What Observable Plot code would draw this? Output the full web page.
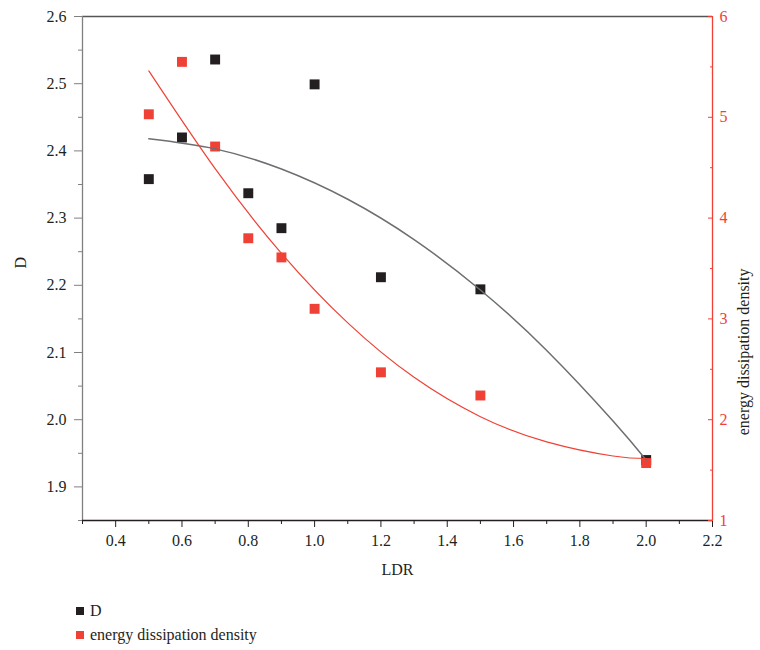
<!DOCTYPE html>
<html><head><meta charset="utf-8">
<script src="https://cdn.jsdelivr.net/npm/d3@7"></script>
<script src="https://cdn.jsdelivr.net/npm/@observablehq/plot@0.6"></script>
<style>
body{margin:0;background:#fff;font-family:"Liberation Serif","Times New Roman","Tinos","DejaVu Serif","Noto Serif",serif;}
#legend{padding-top:14px;margin-left:76px;font-size:16px;color:#231f20;}
.row{display:flex;align-items:center;height:24px;}
.sw{width:8px;height:8px;margin-right:6px;}
</style></head>
<body><div id="chart"></div>
<div id="legend"></div>
<script>
// Data
const ldr = [0.5, 0.6, 0.7, 0.8, 0.9, 1.0, 1.2, 1.5, 2.0];
const dValues = [2.358, 2.420, 2.536, 2.337, 2.285, 2.499, 2.212, 2.194, 1.940];
const energyValues = [5.03, 5.55, 4.71, 3.80, 3.61, 3.10, 2.47, 2.24, 1.57];
// Fitted curves
const fitX = [0.5, 0.7, 0.9, 1.1, 1.3, 1.5, 1.7, 1.9, 2.0];
const dFit = [2.418, 2.403, 2.373, 2.328, 2.268, 2.193, 2.103, 1.998, 1.940];
const energyFit = [5.46, 4.49, 3.65, 2.96, 2.42, 2.03, 1.78, 1.64, 1.615];
// Ticks
const xTicks = [0.4, 0.6, 0.8, 1.0, 1.2, 1.4, 1.6, 1.8, 2.0, 2.2];
const xMinor = [0.3, 0.5, 0.7, 0.9, 1.1, 1.3, 1.5, 1.7, 1.9, 2.1];
const dTicks = [1.9, 2.0, 2.1, 2.2, 2.3, 2.4, 2.5, 2.6];
const dMinor = [1.85, 1.95, 2.05, 2.15, 2.25, 2.35, 2.45, 2.55];
const energyTicks = [1, 2, 3, 4, 5, 6];
const energyMinor = [1.5, 2.5, 3.5, 4.5, 5.5];
const xDomain = [0.3, 2.2];
const dDomain = [1.85, 2.6];
const energyDomain = [1, 6];

const FONT = '"Liberation Serif","Times New Roman","Tinos","DejaVu Serif","Noto Serif",serif';
const BLACK = "#231f20", RED = "#ef4136", GRAY = "#6d6e71";
const toD = d3.scaleLinear().domain(energyDomain).range(dDomain);
const fromD = toD.invert;

const chart = Plot.plot({
  width: 760,
  height: 585,
  marginLeft: 82,
  marginRight: 48,
  marginTop: 16,
  marginBottom: 65,
  style: {fontFamily: FONT, fontSize: "16px", background: "#fff"},
  x: {domain: xDomain, axis: null},
  y: {domain: dDomain, axis: null},
  marks: [
    // frame lines
    Plot.ruleY([dDomain[1]], {stroke: "#555", strokeWidth: 1.3}),
    Plot.ruleX([xDomain[0]], {stroke: "#808080", strokeWidth: 1.3}),
    Plot.ruleX([xDomain[1]], {stroke: RED, strokeWidth: 1.3}),
    Plot.ruleY([dDomain[0]], {stroke: BLACK, strokeWidth: 1.3}),
    // bottom axis
    Plot.axisX(xTicks, {tickSize: 7, tickPadding: 7, tickFormat: d3.format(".1f"), stroke: BLACK, fill: BLACK, label: null, fontSize: 16, fontFamily: FONT}),
    Plot.axisX(xMinor, {tickSize: 4, tickFormat: () => "", stroke: BLACK, label: null}),
    // left axis
    Plot.axisY(dTicks, {tickSize: 8, tickPadding: 8, tickFormat: d3.format(".1f"), stroke: "#808080", fill: BLACK, label: null, fontSize: 16, fontFamily: FONT}),
    Plot.axisY(dMinor, {tickSize: 4, tickFormat: () => "", stroke: "#808080", label: null}),
    // right axis (inward ticks)
    Plot.axisY(energyTicks.map(toD), {anchor: "right", tickSize: 5, dx: -5, tickFormat: () => "", stroke: RED, label: null}),
    Plot.axisY(energyMinor.map(toD), {anchor: "right", tickSize: 3, dx: -3, tickFormat: () => "", stroke: RED, label: null}),
    Plot.axisY(energyTicks.map(toD), {anchor: "right", tickSize: 0, tickPadding: 7, tickFormat: d => String(Math.round(fromD(d))), fill: RED, label: null, fontSize: 16, fontFamily: FONT}),
    // axis titles
    Plot.text(["LDR"], {frameAnchor: "bottom", dy: 54, fill: BLACK, fontSize: 16, fontFamily: FONT}),
    Plot.text(["D"], {frameAnchor: "left", dx: -62, rotate: -90, fill: BLACK, fontSize: 16, fontFamily: FONT}),
    Plot.text(["energy dissipation density"], {frameAnchor: "right", dx: 31, rotate: -90, fill: BLACK, fontSize: 16, fontFamily: FONT}),
    // data
    Plot.dot(ldr, {x: ldr, y: dValues, symbol: "square", r: 5.6, fill: BLACK}),
    Plot.dot(ldr, {x: ldr, y: energyValues.map(toD), symbol: "square", r: 5.6, fill: RED}),
    Plot.line(fitX, {x: fitX, y: dFit, curve: "natural", stroke: GRAY, strokeWidth: 1.5}),
    Plot.line(fitX, {x: fitX, y: energyFit.map(toD), curve: "natural", stroke: RED, strokeWidth: 1.2})
  ]
});
document.getElementById("chart").appendChild(chart);

const legendItems = [{label: "D", color: BLACK}, {label: "energy dissipation density", color: RED}];
const legend = document.getElementById("legend");
for (const it of legendItems) {
  const row = document.createElement("div");
  row.className = "row";
  const sw = document.createElement("span");
  sw.className = "sw";
  sw.style.background = it.color;
  const tx = document.createElement("span");
  tx.textContent = it.label;
  row.appendChild(sw); row.appendChild(tx);
  legend.appendChild(row);
}
</script>
</body></html>
